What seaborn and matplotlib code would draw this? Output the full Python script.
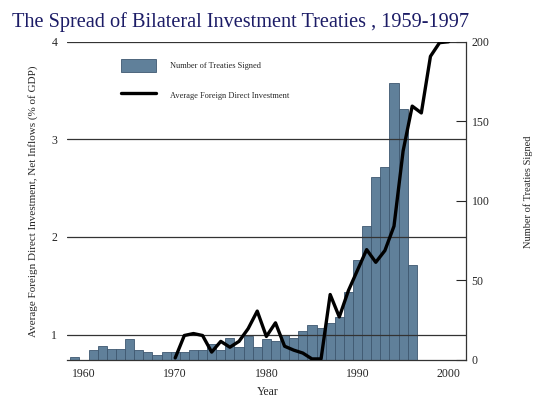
import matplotlib
matplotlib.use("Agg")
import matplotlib.pyplot as plt
import pandas as pd
import seaborn as sns

# Number of BITs signed per year (right axis)
treaty_years = list(range(1959, 1997))
treaties_signed = [2, 0, 6, 9, 7, 7, 13, 6, 5, 3, 5, 5, 5, 6, 6, 10, 6, 14, 8, 15,
                   8, 13, 12, 16, 14, 18, 22, 20, 23, 27, 43, 63, 84, 115, 121, 174, 158, 60]

# Average FDI, net inflows (% of GDP) (left axis)
fdi_years = list(range(1970, 2001))
fdi_inflows = [0.76, 0.99, 1.01, 0.99, 0.82, 0.93, 0.87, 0.93, 1.06, 1.24, 0.98,
               1.12, 0.88, 0.84, 0.81, 0.75, 0.75, 1.41, 1.18, 1.45, 1.66, 1.87,
               1.74, 1.86, 2.11, 2.88, 3.34, 3.27, 3.85, 3.99, 4.0]

left_ticks = [1, 2, 3, 4]
right_ticks = [0, 50, 100, 150, 200]
x_ticks = [1960, 1970, 1980, 1990, 2000]

title_text = "The Spread of Bilateral Investment Treaties , 1959-1997"
bar_label = "Number of Treaties Signed"
line_label = "Average Foreign Direct Investment"

sns.set_style("white")
plt.rcParams["font.family"] = ["Liberation Serif", "DejaVu Serif"]

bits_df = pd.DataFrame({"year": treaty_years, "treaties": treaties_signed})
fdi_df = pd.DataFrame({"year": fdi_years, "fdi": fdi_inflows})

fig = plt.figure(figsize=(5.46, 4.04), dpi=100)
ax = fig.add_axes([67 / 546, 1 - 360 / 404, 399 / 546, 318.3 / 404])

sns.barplot(data=bits_df, x="year", y="treaties", native_scale=True, width=1.0,
            color="#60809a", saturation=1, edgecolor="#3e5870", linewidth=0.6,
            ax=ax)

ax2 = ax.twinx()
sns.lineplot(data=fdi_df, x="year", y="fdi", color="black", linewidth=2.4, ax=ax2)

# bars / counts on the right, FDI on the left (twinx flips them, so set after)
ax.set_xlim(1958.13, 2001.9)
ax.set_ylim(0, 200)
ax.set_yticks(right_ticks)
ax.set_xticks(x_ticks)
ax.set_xlabel("")
ax.set_ylabel("")
ax.yaxis.tick_right()
ax.tick_params(axis="y", direction="in", length=7, width=0.8, pad=4, labelsize=8.5,
               right=True, left=False, labelright=True, labelleft=False)
ax.tick_params(axis="x", direction="in", length=5, width=0.8, pad=6, labelsize=8.5)
for side in ["top", "left"]:
    ax.spines[side].set_visible(False)
for side in ["bottom", "right"]:
    ax.spines[side].set_color("#333333")
    ax.spines[side].set_linewidth(0.9)

ax2.set_ylim(0.739, 4.0)
ax2.yaxis.tick_left()
ax2.set_yticks(left_ticks)
ax2.set_ylabel("")
ax2.set_xlabel("")
ax2.tick_params(axis="y", length=0, pad=7, labelsize=8.5, left=True, right=False,
                labelleft=True, labelright=False)
ax2.grid(axis="y", color="#333333", linewidth=0.9)
for side in ["top", "left", "right", "bottom"]:
    ax2.spines[side].set_visible(False)

ax2.legend(handles=[ax.patches[0], ax2.lines[0]], labels=[bar_label, line_label],
           loc="upper left", bbox_to_anchor=(121 / 546, 1 - 59 / 404),
           bbox_transform=fig.transFigure, frameon=False, fontsize=6,
           handlelength=4.2, handleheight=2.0, handletextpad=1.7,
           labelspacing=2.0, borderpad=0, borderaxespad=0)

fig.text(12 / 546, 1 - 27 / 404, title_text, fontsize=14.6, color="#1c1c66",
         ha="left", va="baseline")
fig.text(33 / 546, 1 - 201 / 404,
         "Average Foreign Direct Investment, Net Inflows (% of GDP)",
         rotation=90, ha="center", va="center", fontsize=8)
fig.text(528 / 546, 1 - 192 / 404, "Number of Treaties Signed",
         rotation=90, ha="center", va="center", fontsize=7.5)
fig.text(268 / 546, 1 - 392 / 404, "Year", ha="center", va="center", fontsize=8.5)

fig.savefig("out.png", dpi=100)
